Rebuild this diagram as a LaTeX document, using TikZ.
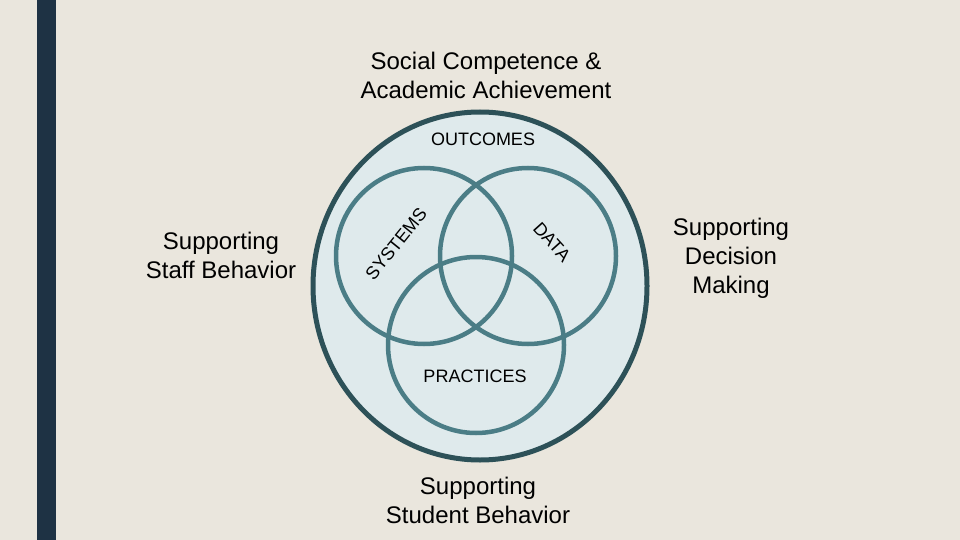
\documentclass[tikz,border=0pt]{standalone}
\usepackage{fontspec}
\setmainfont{Liberation Sans}
\definecolor{bgc}{HTML}{EAE6DD}
\definecolor{barc}{HTML}{1E3244}
\definecolor{ellfill}{HTML}{DFEAEC}
\definecolor{ellline}{HTML}{2D5158}
\definecolor{circline}{HTML}{4B7D86}
\tikzset{
  bigtxt/.style={font=\fontsize{24}{29}\selectfont, align=center, text=black, inner sep=0pt},
  smalltxt/.style={font=\fontsize{18}{22}\selectfont, text=black, inner sep=0pt},
  vcircle/.style={draw=circline, line width=4.5pt},
}
\begin{document}
\begin{tikzpicture}[x=1pt,y=-1pt]
\useasboundingbox (0,0) rectangle (960,540);
\fill[bgc] (0,0) rectangle (960,540);
\fill[barc] (37,0) rectangle (56,540);
% outer ellipse
\draw[draw=ellline, fill=ellfill, line width=5pt] (480,286) ellipse [x radius=167pt, y radius=174pt];
% venn circles
\draw[vcircle] (424,256) circle [radius=88pt];
\draw[vcircle] (528,256) circle [radius=88pt];
\draw[vcircle] (476,345) circle [radius=88pt];
% texts
\node[bigtxt] (title) at (486,75) {Social Competence \&\\Academic Achievement};
\node[smalltxt] (outcomes) at (483,139) {OUTCOMES};
\node[smalltxt] (practices) at (475,376) {PRACTICES};
\node[smalltxt, rotate=51] (systems) at (396,244) {SYSTEMS};
\node[smalltxt, rotate=-48] (data) at (552,242) {DATA};
\node[bigtxt] (staff) at (221,255) {Supporting\\Staff Behavior};
\node[bigtxt] (decision) at (731,258) {Supporting\\Decision\\Making};
\node[bigtxt] (student) at (478,500) {Supporting\\Student Behavior};
\end{tikzpicture}
\end{document}
